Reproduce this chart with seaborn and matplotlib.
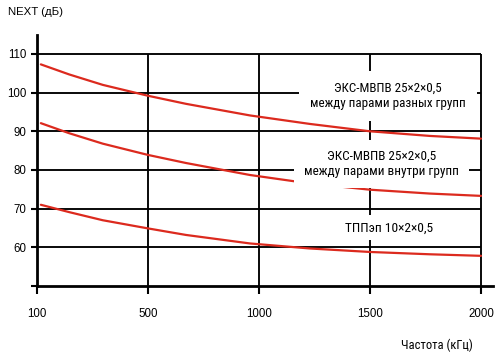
import os
import numpy as np
import pandas as pd
import matplotlib
matplotlib.use("Agg")
import matplotlib.pyplot as plt
import seaborn as sns
from matplotlib import font_manager as fm

# ---- data ----
freq = [115, 217, 338, 500, 672, 960, 1230, 1500, 1770, 2000]
next_mvpv_diff = [107.3, 104.7, 102.0, 99.2, 97.1, 94.1, 91.9, 90.0, 88.8, 88.1]
next_mvpv_same = [92.1, 89.5, 86.8, 83.9, 81.8, 78.7, 76.5, 74.9, 73.9, 73.3]
next_tpp = [71.0, 69.1, 67.0, 64.9, 63.2, 61.0, 59.7, 58.8, 58.2, 57.8]
series_names = ["diff", "same", "tpp"]
series_labels = ["ЭКС-МВПВ 25×2×0,5\nмежду парами разных групп",
                 "ЭКС-МВПВ 25×2×0,5\nмежду парами внутри групп",
                 "ТППэп 10×2×0,5"]
x_ticks = [100, 500, 1000, 1500, 2000]
x_tick_labels = ["100", "500", "1000", "1500", "2000"]
y_ticks = [50, 60, 70, 80, 90, 100, 110]
y_tick_labels = ["", "60", "70", "80", "90", "100", "110"]
y_label = "NEXT (дБ)"
x_label = "Частота (кГц)"

df = pd.DataFrame({
    "freq": freq * 3,
    "next": next_mvpv_diff + next_mvpv_same + next_tpp,
    "series": sum([[n] * len(freq) for n in series_names], []),
})

sns.set_theme(style="white")
plt.rcParams["font.family"] = ["Liberation Sans", "DejaVu Sans"]
plt.rcParams["text.color"] = "black"
plt.rcParams["xtick.color"] = "black"
plt.rcParams["ytick.color"] = "black"


def find_narrow():
    files = [f.fname for f in fm.fontManager.ttflist]
    for key in ["liberationsansnarrow-regular", "robotocondensed-regular",
                "dejavusanscondensed.ttf", "opensans_condensed-regular",
                "opensanscondensed-regular"]:
        for fn in files:
            if key in os.path.basename(fn).lower():
                return fm.FontProperties(fname=fn)
    return fm.FontProperties(family="DejaVu Sans")


narrow = find_narrow()

fig = plt.figure(figsize=(4.97, 3.62), dpi=100)
ax = fig.add_axes([36.7 / 497, 76 / 362, 456.3 / 497, 251.4 / 362])

# piecewise-linear frequency axis (ticks equally spaced)
bp = [100, 500, 1000, 1500, 2000, 2500]
bpos = [0, 1, 2, 3, 4, 5]
fwd = lambda v: np.interp(v, bp, bpos)
inv = lambda p: np.interp(p, bpos, bp)
ax.set_xscale("function", functions=(fwd, inv))

red = "#dc2a1e"
for name, z in zip(series_names, [6, 3, 3]):
    sns.lineplot(data=df[df["series"] == name], x="freq", y="next",
                 color=red, legend=False, ax=ax, linewidth=1.6, zorder=z)

ax.set_xlim(100, 2054)
ax.set_ylim(50, 115)

# grid
ax.hlines(y_ticks[1:], 100, 2000, colors="black", linewidth=1.35, zorder=2)
ax.vlines(x_ticks[1:], 50, 110, colors="black", linewidth=1.35, zorder=2)

for s in ["top", "right"]:
    ax.spines[s].set_visible(False)
for s in ["left", "bottom"]:
    ax.spines[s].set_color("black")
    ax.spines[s].set_linewidth(2.0)
    ax.spines[s].set_zorder(7)

ax.set_xticks(x_ticks)
ax.set_xticklabels(x_tick_labels)
ax.set_yticks(y_ticks)
ax.set_yticklabels(y_tick_labels)
ax.tick_params(axis="x", length=6, width=1.5, color="black", direction="out",
               pad=9.5, labelsize=8.3, bottom=True)
ax.tick_params(axis="y", length=4.5, width=1.5, color="black", direction="out",
               pad=3, labelsize=8.3, left=True)
ax.set_xlabel("")
ax.set_ylabel("")
ax.minorticks_off()

fig.canvas.draw()
renderer = fig.canvas.get_renderer()


def fitted(t, target_px):
    w = t.get_window_extent(renderer).width
    t.set_fontsize(t.get_fontsize() * target_px / w)
    return t


# labels on plot
lab_pos = [(1580, 99.1), (1554, 81.6), (1586, 65.0)]
lab_w = [155, 155, 88]
lab_pad_px = [11, 10, 6]
for (lx, ly), txt, tw, pp in zip(lab_pos, series_labels, lab_w, lab_pad_px):
    t = ax.text(lx, ly, txt, ha="center", va="center", fontproperties=narrow,
                fontsize=9, linespacing=1.25, zorder=5, color="black")
    fitted(t, tw)
    fs_px = t.get_fontsize() * 100 / 72
    t.set_bbox(dict(boxstyle=f"square,pad={pp / fs_px:.3f}", fc="white", ec="none"))

fig.text(8 / 497, 1 - 12 / 362, y_label, ha="left", va="center", fontsize=8.2,
         color="black")
xl = fig.text(473 / 497, 1 - 345 / 362, x_label, ha="right", va="center",
              fontproperties=narrow, fontsize=9, color="black")
fitted(xl, 72)

fig.savefig("out.png", dpi=100, facecolor="white")
